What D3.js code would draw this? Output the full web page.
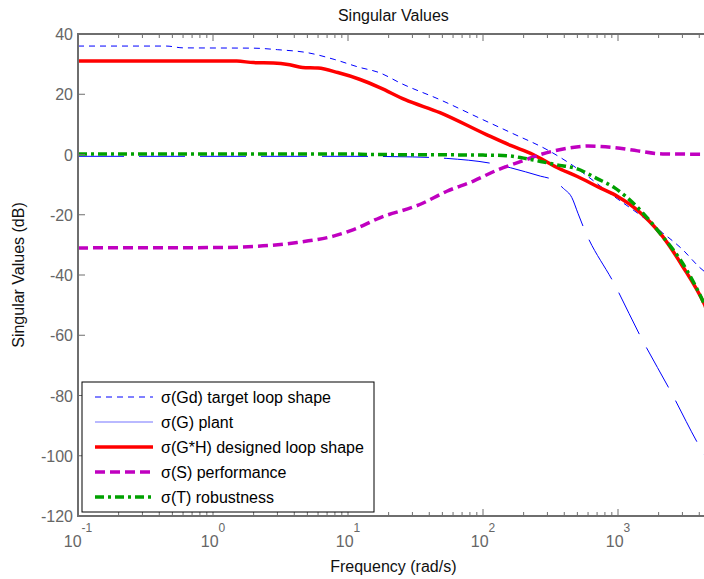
<!DOCTYPE html>
<html><head><meta charset="utf-8">
<script src="https://cdn.jsdelivr.net/npm/d3@7"></script>
<style>
html,body{margin:0;padding:0;background:#fff;}
svg{display:block;font-family:"Liberation Sans",Arial,sans-serif;}
</style></head>
<body><div id="chart"></div>
<script>
// ---------- data (frequency rad/s, singular value dB) ----------
const targetFreq = [0.1,0.45,0.6,2,3,5,8,12,17,25,48,95,160,315,430,940,1500,2140,3000,4030,4700];
const targetDb   = [36,36,35.4,35.3,34.8,33.8,31.5,29,27.2,23.5,18.2,12,7.3,1,-2.7,-14,-20.5,-26,-31.5,-37.5,-40];

const plantFreq = [0.1,10,30,54,120,160,267,325,395,455,505,565,940,1480,2480,4030,4700];
const plantDb   = [-0.6,-0.6,-0.8,-1.3,-3.1,-4.4,-7.2,-8.3,-11.3,-14.3,-19.5,-25,-43,-60.7,-79,-97,-102];

const loopFreq = [0.1,1.5,2,2.8,3.7,4.6,6,8.4,12.3,17.2,26.5,48,106,160,235,353,500,730,1000,1370,2140,3000,4340,4700];
const loopDb   = [31,31,30.5,30.4,29.8,28.9,28.7,27.2,24.9,22.2,18.2,13.9,6.6,3,0,-4.3,-7.3,-11,-14,-18.2,-27.2,-37,-49.5,-53];

const perfFreq = [0.1,1,2.1,4.2,7.8,11,17.2,34,54,85,130,200,267,440,600,940,1400,2140,4700];
const perfDb   = [-31,-30.9,-30.5,-29.2,-27.1,-24.9,-21,-16.6,-12.2,-8.8,-5,-2,0,2.2,2.8,2.3,1.2,0.2,0.1];

const robFreq = [0.1,10,15,50,100,150,200,267,350,500,700,940,1370,2140,3000,4340,4700];
const robDb   = [0.2,0.2,0,-0.1,-0.2,-0.4,-1.2,-2.3,-3.4,-4.8,-8,-11,-17.2,-27.2,-36,-49.5,-53];

const seriesNames = ["\u03C3(Gd) target loop shape","\u03C3(G) plant","\u03C3(G*H) designed loop shape","\u03C3(S) performance","\u03C3(T) robustness"];
const yTicks = [40,20,0,-20,-40,-60,-80,-100,-120];
const xDecades = [-1,0,1,2,3];
const titleText = "Singular Values";
const xLabel = "Frequency (rad/s)";
const yLabel = "Singular Values (dB)";

// ---------- layout ----------
const W = 704, H = 579;
const pL = 78, pT = 34, pB = 516, perDecade = 135;
const xMin = 0.1, xMax = 4700;
const pR = pL + perDecade * Math.log10(xMax / xMin);

const x = d3.scaleLog().domain([xMin, xMax]).range([pL, pR]);
const y = d3.scaleLinear().domain([-120, 40]).range([pB, pT]);

const svg = d3.select("#chart").append("svg").attr("width", W).attr("height", H);

svg.append("defs").append("clipPath").attr("id","clip")
  .append("rect").attr("x",pL).attr("y",pT).attr("width",pR-pL).attr("height",pB-pT);

const axisColor = "#6e6e6e";

// lines
const styles = [
  {f:targetFreq, v:targetDb, color:"#0000ff", w:1, dash:"6,5"},
  {f:plantFreq, v:plantDb, color:"#0000ff", w:1, dash:"46,15"},
  {f:loopFreq, v:loopDb, color:"#ff0000", w:3.5, dash:null},
  {f:perfFreq, v:perfDb, color:"#c000c0", w:3.5, dash:"10,5"},
  {f:robFreq, v:robDb, color:"#00a000", w:3.5, dash:"9,4,3,4"}
];
const line = d3.line().x(d=>x(d[0])).y(d=>y(d[1])).curve(d3.curveMonotoneX);
const g = svg.append("g").attr("clip-path","url(#clip)");
styles.forEach(s => {
  const pts = s.f.map((f,i)=>[f, s.v[i]]);
  g.append("path").attr("d", line(pts)).attr("fill","none")
    .attr("stroke", s.color).attr("stroke-width", s.w)
    .attr("stroke-dasharray", s.dash).attr("stroke-linejoin","round");
});

// axes frame
const ax = svg.append("g");
ax.append("line").attr("x1",pL).attr("x2",pR).attr("y1",pT).attr("y2",pT)
  .attr("stroke",axisColor).attr("stroke-width",2);
ax.append("line").attr("x1",pL).attr("x2",pR).attr("y1",pB).attr("y2",pB)
  .attr("stroke",axisColor).attr("stroke-width",2);
ax.append("line").attr("x1",pL).attr("x2",pL).attr("y1",pT-1).attr("y2",pB+1)
  .attr("stroke",axisColor).attr("stroke-width",2);

// x ticks (inside, top and bottom)
const minorTicks = [];
for (let dec = -1; dec <= 3; dec++) for (let k = 2; k <= 9; k++) {
  const v = k * Math.pow(10, dec); if (v <= xMax) minorTicks.push(v);
}
const majorTicks = xDecades.map(d => Math.pow(10, d));
minorTicks.forEach(v => {
  ax.append("line").attr("x1",x(v)).attr("x2",x(v)).attr("y1",pT).attr("y2",pT+4).attr("stroke",axisColor);
  ax.append("line").attr("x1",x(v)).attr("x2",x(v)).attr("y1",pB).attr("y2",pB-4).attr("stroke",axisColor);
});
majorTicks.forEach(v => {
  ax.append("line").attr("x1",x(v)).attr("x2",x(v)).attr("y1",pT).attr("y2",pT+7).attr("stroke",axisColor);
  ax.append("line").attr("x1",x(v)).attr("x2",x(v)).attr("y1",pB).attr("y2",pB-7).attr("stroke",axisColor);
});
// x tick labels: 10^n centred on tick
xDecades.forEach(d => {
  const px = x(Math.pow(10,d));
  const t = ax.append("text").attr("x", px).attr("y", pB + 31)
    .attr("fill","#666").attr("font-size",16).attr("text-anchor","middle");
  t.append("tspan").text("10");
  t.append("tspan").attr("dy",-15).attr("font-size",12).text(String(d));
});

// y ticks
yTicks.forEach(v => {
  ax.append("line").attr("x1",pL).attr("x2",pL+7).attr("y1",y(v)).attr("y2",y(v)).attr("stroke",axisColor);
  ax.append("text").attr("x", pL - 5).attr("y", y(v) + 6)
    .attr("fill","#666").attr("font-size",16).attr("text-anchor","end").text(String(v));
});

// title and labels
svg.append("text").attr("x",(pL+pR)/2).attr("y",21).attr("text-anchor","middle")
  .attr("font-size",16).attr("fill","#111").text(titleText);
svg.append("text").attr("x",(pL+pR)/2).attr("y",572).attr("text-anchor","middle")
  .attr("font-size",16).attr("fill","#111").text(xLabel);
svg.append("text").attr("transform",`translate(24,${(pT+pB)/2}) rotate(-90)`)
  .attr("text-anchor","middle").attr("font-size",16).attr("fill","#111").text(yLabel);

// legend
const lg = svg.append("g");
lg.append("rect").attr("x",82).attr("y",382).attr("width",292).attr("height",130)
  .attr("fill","#fff").attr("stroke","#000").attr("stroke-width",1);
seriesNames.forEach((name,i) => {
  const cy = 397 + i*25;
  const s = styles[i];
  lg.append("line").attr("x1",95).attr("x2",153).attr("y1",cy).attr("y2",cy)
    .attr("stroke", s.color).attr("stroke-width", s.w)
    .attr("stroke-opacity", i===1 ? 0.55 : 1)
    .attr("stroke-dasharray", i===1 ? null : s.dash);
  lg.append("text").attr("x",161).attr("y",cy+6).attr("font-size",16).attr("fill","#000").text(name);
});
</script>
</body></html>
